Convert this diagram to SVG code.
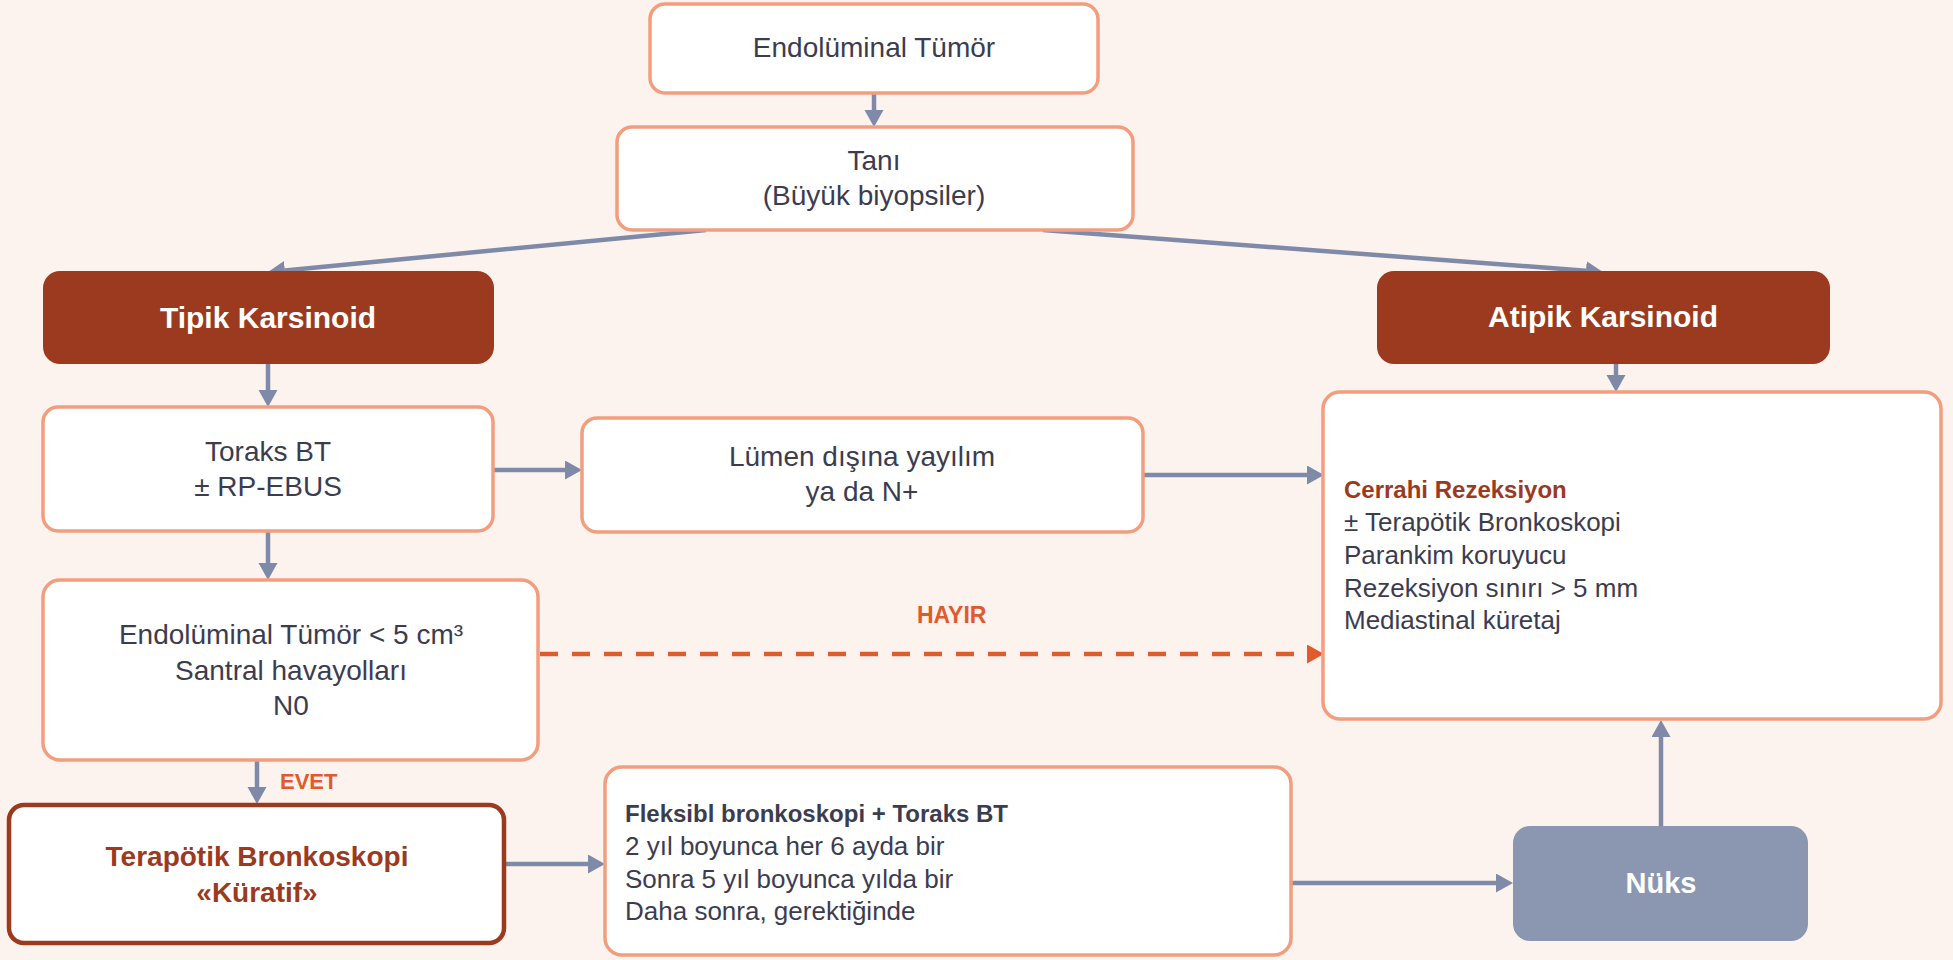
<svg xmlns="http://www.w3.org/2000/svg" width="1953" height="960" viewBox="0 0 1953 960">
<style>
.box{fill:#FFFFFF;stroke:#F29E7E;stroke-width:3.5}
.dark{fill:#9B3A1E}
.t{font-family:"Liberation Sans",Arial,sans-serif;fill:#3C3C50}
.c{font-size:28px;text-anchor:middle}
.l{font-size:26px}
.w{font-family:"Liberation Sans",Arial,sans-serif;fill:#FFFFFF;font-weight:bold;text-anchor:middle}
.conn{stroke:#7E8AA8;stroke-width:4.5;fill:none;marker-end:url(#ah)}
.dash{stroke:#E05A2C;stroke-width:4.5;fill:none;stroke-dasharray:18 14;marker-end:url(#ahr)}
.lab{font-family:"Liberation Sans",Arial,sans-serif;fill:#E05A2C;font-weight:bold}
</style>
<defs>
<marker id="ah" markerUnits="userSpaceOnUse" markerWidth="18" markerHeight="20" refX="0" refY="9.5" orient="auto">
<path d="M0,0 L17,9.5 L0,19 z" fill="#7E8AA8"/>
</marker>
<marker id="ahr" markerUnits="userSpaceOnUse" markerWidth="18" markerHeight="20" refX="0" refY="9.5" orient="auto">
<path d="M0,0 L17,9.5 L0,19 z" fill="#E05A2C"/>
</marker>
</defs>
<rect x="0" y="0" width="1953" height="960" fill="#FDF3EE"/>

<g id="connectors">
<line class="conn" x1="874" y1="93" x2="874" y2="110"/>
<line class="conn" x1="706" y1="230" x2="284.9" y2="270.4"/>
<line class="conn" x1="1043" y1="230" x2="1586" y2="270.7"/>
<line class="conn" x1="268" y1="364" x2="268" y2="390"/>
<line class="conn" x1="1616" y1="364" x2="1616" y2="375"/>
<line class="conn" x1="493" y1="470" x2="565" y2="470"/>
<line class="conn" x1="1143" y1="475" x2="1307" y2="475"/>
<line class="conn" x1="268" y1="531" x2="268" y2="563"/>
<line class="dash" x1="540" y1="654" x2="1307" y2="654"/>
<line class="conn" x1="257" y1="760" x2="257" y2="787"/>
<line class="conn" x1="505" y1="864" x2="588" y2="864"/>
<line class="conn" x1="1291" y1="883" x2="1496" y2="883"/>
<line class="conn" x1="1661" y1="826" x2="1661" y2="737"/>
<text class="lab" x="917" y="623" font-size="23">HAYIR</text>
<text class="lab" x="280" y="789" font-size="22">EVET</text>
</g>

<g id="endoluminal-tumor">
<rect class="box" x="650" y="4" width="448" height="89" rx="15"/>
<text class="t c" x="874" y="57">Endolüminal Tümör</text>
</g>

<g id="tani">
<rect class="box" x="617" y="127" width="516" height="103" rx="15"/>
<text class="t c" x="874" y="170">Tanı</text>
<text class="t c" x="874" y="205">(Büyük biyopsiler)</text>
</g>

<g id="tipik-karsinoid">
<rect class="dark" x="43" y="271" width="451" height="93" rx="17"/>
<text class="w" x="268" y="328" font-size="30">Tipik Karsinoid</text>
</g>

<g id="atipik-karsinoid">
<rect class="dark" x="1377" y="271" width="453" height="93" rx="17"/>
<text class="w" x="1603" y="327" font-size="30">Atipik Karsinoid</text>
</g>

<g id="toraks-bt">
<rect class="box" x="43" y="407" width="450" height="124" rx="15"/>
<text class="t c" x="268" y="461">Toraks BT</text>
<text class="t c" x="268" y="496">± RP-EBUS</text>
</g>

<g id="lumen-disina">
<rect class="box" x="582" y="418" width="561" height="114" rx="15"/>
<text class="t c" x="862" y="466">Lümen dışına yayılım</text>
<text class="t c" x="862" y="501">ya da N+</text>
</g>

<g id="cerrahi-rezeksiyon">
<rect class="box" x="1323" y="392" width="618" height="327" rx="17"/>
<text x="1344" y="498" font-family="Liberation Sans, Arial, sans-serif" font-size="24" font-weight="bold" fill="#9B3A1E">Cerrahi Rezeksiyon</text>
<text class="t l" x="1344" y="531">± Terapötik Bronkoskopi</text>
<text class="t l" x="1344" y="564">Parankim koruyucu</text>
<text class="t l" x="1344" y="597">Rezeksiyon sınırı &gt; 5 mm</text>
<text class="t l" x="1344" y="629">Mediastinal küretaj</text>
</g>

<g id="endoluminal-kriter">
<rect class="box" x="43" y="580" width="495" height="180" rx="17"/>
<text class="t c" x="291" y="644">Endolüminal Tümör &lt; 5 cm³</text>
<text class="t c" x="291" y="680">Santral havayolları</text>
<text class="t c" x="291" y="715">N0</text>
</g>

<g id="terapotik-bronkoskopi">
<rect x="9" y="805" width="495" height="138" rx="15" fill="#FFFFFF" stroke="#9B3A1E" stroke-width="4.5"/>
<text x="257" y="866" font-family="Liberation Sans, Arial, sans-serif" font-size="28" font-weight="bold" fill="#9B3A1E" text-anchor="middle">Terapötik Bronkoskopi</text>
<text x="257" y="902" font-family="Liberation Sans, Arial, sans-serif" font-size="28" font-weight="bold" fill="#9B3A1E" text-anchor="middle">«Küratif»</text>
</g>

<g id="takip">
<rect class="box" x="605" y="767" width="686" height="188" rx="17"/>
<text x="625" y="822" font-family="Liberation Sans, Arial, sans-serif" font-size="24" font-weight="bold" fill="#3C3C50">Fleksibl bronkoskopi + Toraks BT</text>
<text class="t l" x="625" y="855">2 yıl boyunca her 6 ayda bir</text>
<text class="t l" x="625" y="888">Sonra 5 yıl boyunca yılda bir</text>
<text class="t l" x="625" y="920">Daha sonra, gerektiğinde</text>
</g>

<g id="nuks">
<rect x="1513" y="826" width="295" height="115" rx="17" fill="#8B97B1"/>
<text class="w" x="1661" y="893" font-size="29">Nüks</text>
</g>
</svg>
